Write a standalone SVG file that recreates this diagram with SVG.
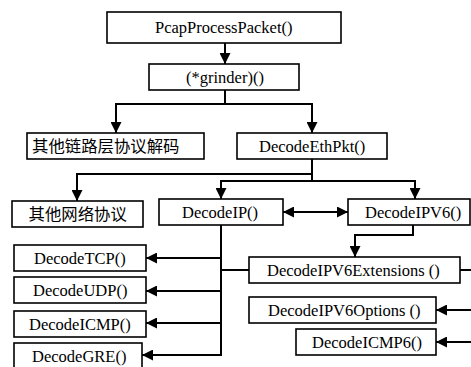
<svg xmlns="http://www.w3.org/2000/svg" width="471" height="367" viewBox="0 0 471 367">
<style>
rect{fill:#fff;stroke:#000;stroke-width:1.6}
</style>
<defs>
<marker id="ah" markerUnits="userSpaceOnUse" markerWidth="12" markerHeight="11" refX="11" refY="5.5" orient="auto-start-reverse" viewBox="0 0 12 11">
<path d="M0,0 L11,5.5 L0,11 z" fill="#000"/>
</marker>
</defs>
<g id="edges" fill="none" stroke="#000" stroke-width="2">
<path d="M225,43 V64" marker-end="url(#ah)"/>
<path d="M225,90 V104 H116 V133" marker-end="url(#ah)"/>
<path d="M225,104 H312 V133" marker-end="url(#ah)"/>
<path d="M312,159 V174 H77 V201" marker-end="url(#ah)"/>
<path d="M312,174 V181 H221 V199" marker-end="url(#ah)"/>
<path d="M312,181 H415 V199" marker-end="url(#ah)"/>
<path d="M283,212 H348" marker-start="url(#ah)" marker-end="url(#ah)"/>
<path d="M413,224 V235 H355 V257" marker-end="url(#ah)"/>
<path d="M221,224 V355 H142" marker-end="url(#ah)"/>
<path d="M221,258 H146" marker-end="url(#ah)"/>
<path d="M221,291 H146" marker-end="url(#ah)"/>
<path d="M221,323 H146" marker-end="url(#ah)"/>
<path d="M221,270 H249"/>
<path d="M460,270 H473 V342"/>
<path d="M473,310 H436" marker-end="url(#ah)"/>
<path d="M473,342 H436" marker-end="url(#ah)"/>
</g>
<g id="pcap"><rect x="107" y="12" width="234" height="31"/><text x="155" y="33" font-family="Liberation Serif" font-size="16.5">PcapProcessPacket()</text></g>
<g id="grinder"><rect x="149" y="64" width="150" height="26"/><text x="186" y="82.5" font-family="Liberation Serif" font-size="16.5">(*grinder)()</text></g>
<g id="etheth"><rect x="237" y="133" width="150" height="26"/><text x="259" y="151.5" font-family="Liberation Serif" font-size="16.5">DecodeEthPkt()</text></g>
<g id="ip"><rect x="159" y="199" width="124" height="26"/><text x="182" y="217.5" font-family="Liberation Serif" font-size="16.5">DecodeIP()</text></g>
<g id="ipv6"><rect x="348" y="199" width="122" height="26"/><text x="365" y="217.5" font-family="Liberation Serif" font-size="16.5">DecodeIPV6()</text></g>
<g id="tcp"><rect x="14" y="245" width="132" height="26"/><text x="34" y="263.5" font-family="Liberation Serif" font-size="16.5">DecodeTCP()</text></g>
<g id="udp"><rect x="14" y="277" width="132" height="26"/><text x="33" y="295.5" font-family="Liberation Serif" font-size="16.5">DecodeUDP()</text></g>
<g id="icmp"><rect x="14" y="311" width="132" height="26"/><text x="29" y="329.5" font-family="Liberation Serif" font-size="16.5">DecodeICMP()</text></g>
<g id="gre"><rect x="14" y="343" width="128" height="28"/><text x="32" y="361.5" font-family="Liberation Serif" font-size="16.5">DecodeGRE()</text></g>
<g id="ipv6ext"><rect x="249" y="257" width="211" height="26"/><text x="267" y="275.5" font-family="Liberation Serif" font-size="16.5">DecodeIPV6Extensions ()</text></g>
<g id="ipv6opt"><rect x="249" y="297" width="187" height="26"/><text x="268" y="315.5" font-family="Liberation Serif" font-size="16.5">DecodeIPV6Options ()</text></g>
<g id="icmp6"><rect x="296" y="329" width="140" height="26"/><text x="312" y="347.5" font-family="Liberation Serif" font-size="16.5">DecodeICMP6()</text></g>
<g id="otherlink"><rect x="27" y="133" width="177" height="26"/><text x="32" y="152" font-family="Noto Sans CJK SC" font-size="16.4">其他链路层协议解码</text></g>
<g id="othernet"><rect x="12" y="201" width="131" height="26"/><text x="28.5" y="220" font-family="Noto Sans CJK SC" font-size="16.4">其他网络协议</text></g>
</svg>
